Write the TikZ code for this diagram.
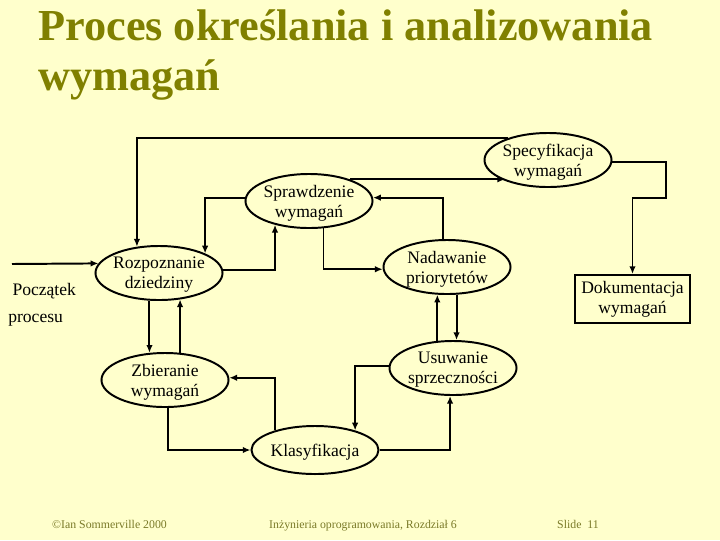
\documentclass[tikz,border=0pt]{standalone}
\usepackage{fontspec}
\setmainfont{Liberation Serif}
\usetikzlibrary{shapes.geometric,arrows.meta}

\definecolor{slidebg}{HTML}{FFFFCC}
\definecolor{titlecol}{HTML}{808000}
\definecolor{footcol}{HTML}{7A7A28}

\tikzset{
  proc/.style={ellipse, draw, line width=1.4pt, inner xsep=-1cm, inner ysep=-0.3cm,
    minimum width=3.175cm, minimum height=1.35cm, align=center, text depth=0pt,
    font=\fontsize{12.5}{14.2}\selectfont},
  flow/.style={-{Latex[length=5.5pt,width=4.6pt]}, line width=1.4pt},
  title/.style={anchor=base west, inner sep=0pt, text=titlecol,
    font=\fontsize{31.5}{36}\selectfont\bfseries},
  foot/.style={anchor=base, inner sep=0pt, text=footcol, font=\fontsize{8.4}{10}\selectfont}
}

\begin{document}
\begin{tikzpicture}[x=0.025cm, y=-0.025cm]
    \fill[slidebg] (0,0) rectangle (720,540);
    \useasboundingbox (0,0) rectangle (720,540);

    \node[title] (title1) at (38,40) {Proces określania i analizowania};
    \node[title] (title2) at (38,90) {wymagań};

    \node[proc] (spec) at (548,160) {Specyfikacja\\wymagań};
    \node[proc] (spraw) at (309,201) {Sprawdzenie\\wymagań};
    \node[proc] (rozp) at (159,273) {Rozpoznanie\\dziedziny};
    \node[proc] (nad) at (447,267) {Nadawanie\\priorytetów};
    \node[proc] (zbier) at (165,380) {Zbieranie\\wymagań};
    \node[proc] (usuw) at (453,368) {Usuwanie\\sprzeczności};
    \node[proc, minimum height=1.2cm] (klas) at (315,450) {Klasyfikacja};
    \node[draw, line width=1.4pt, minimum width=2.875cm, minimum height=1.2cm, align=center,
      font=\fontsize{12.5}{14.2}\selectfont] (dok) at (632.5,299) {Dokumentacja\\wymagań};

    \node[anchor=north west, inner sep=0pt, align=left, font=\fontsize{12.5}{19}\selectfont]
      (poczatek) at (8,283) {\hspace*{3pt}Początek\\procesu};

    \coordinate (start) at (12,264);
    \coordinate (bend) at (666,198);

    % upper half
    \draw[flow] (start) -- (rozp.171);
    \draw[flow] (spec.151) -| (rozp.130);
    \draw[flow] (spraw.177) -| (rozp.23);
    \draw[flow] (rozp.3) -| (spraw.215);
    \draw[flow] (spraw.298) |- (nad.182);
    \draw[flow] (nad.98) |- (spraw.3);
    \draw[flow] (spraw.28) -- (spraw.28 -| spec.206);
    \draw[flow] (spec.358) -| (bend) -| (dok.north);

    % lower half
    \draw[flow] (rozp.251) -- (rozp.251 |- zbier.119);
    \draw[flow] (zbier.61) -- (zbier.61 |- rozp.309);
    \draw[flow] (usuw.120) -- (usuw.120 |- nad.251);
    \draw[flow] (nad.289) -- (nad.289 |- usuw.84);
    \draw[flow] (zbier.276) |- (klas.west);
    \draw[flow] (klas.154) |- (zbier.2);
    \draw[flow] (usuw.178) -| (klas.26);
    \draw[flow] (klas.east) -| (usuw.264);

    \node[foot] (autor) at (109.5,528) {©Ian Sommerville 2000};
    \node[foot] (ksiazka) at (363,528) {Inżynieria oprogramowania, Rozdział 6};
    \node[foot] (slajd) at (578,528) {Slide\ \ 11};
\end{tikzpicture}
\end{document}
